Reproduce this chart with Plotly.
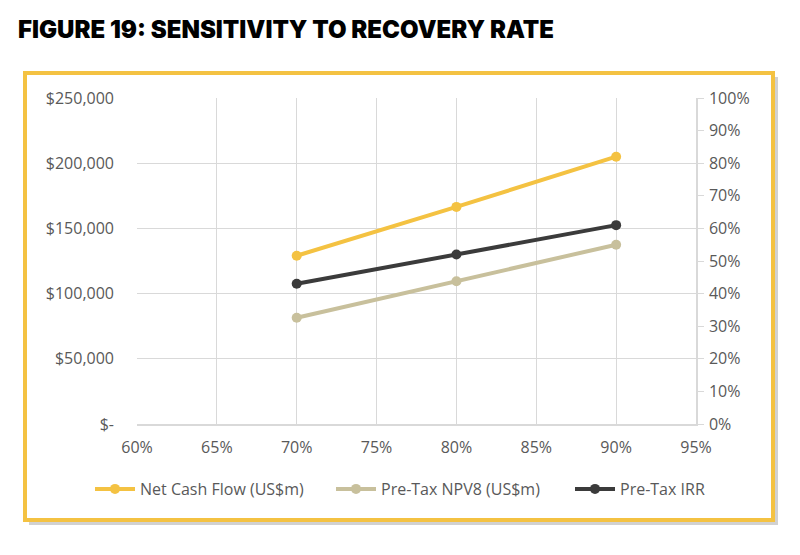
import plotly.graph_objects as go

recovery = [70, 80, 90]
net_cash_flow = [129000, 166500, 205000]
npv8 = [81500, 109500, 137500]
irr = [0.43, 0.52, 0.61]

x_ticks = [60, 65, 70, 75, 80, 85, 90, 95]
x_labels = ["60%", "65%", "70%", "75%", "80%", "85%", "90%", "95%"]
y_ticks = [0, 50000, 100000, 150000, 200000, 250000]
y_labels = ["$-", "$50,000", "$100,000", "$150,000", "$200,000", "$250,000"]
y2_ticks = [i / 10 for i in range(11)]
y2_labels = [f"{i*10}%" for i in range(11)]

GOLD = "#F4C242"
BEIGE = "#C8C09C"
DARK = "#3B3B3B"
GRID = "#D9D9D9"
TXT = "#595959"
FONT = "Open Sans"

fig = go.Figure()
fig.add_trace(go.Scatter(x=recovery, y=net_cash_flow, name="Net Cash Flow (US$m)",
                         mode="lines+markers", line=dict(color=GOLD, width=4),
                         marker=dict(size=10, color=GOLD), legend="legend"))
fig.add_trace(go.Scatter(x=recovery, y=npv8, name="Pre-Tax NPV8 (US$m)",
                         mode="lines+markers", line=dict(color=BEIGE, width=4),
                         marker=dict(size=10, color=BEIGE), legend="legend2"))
fig.add_trace(go.Scatter(x=recovery, y=irr, name="Pre-Tax IRR", yaxis="y2",
                         mode="lines+markers", line=dict(color=DARK, width=4),
                         marker=dict(size=10, color=DARK), legend="legend3"))

# page body adds an 8px offset; work in target-pixel coordinates and subtract it
OFF = 8
W, H = 800 - OFF, 555 - OFF
L, R, T, B = 137 - OFF, 800 - 696, 98 - OFF, 555 - 424
pw, ph = W - L - R, H - T - B
def px(x): return (x - OFF - L) / pw
def py(y): return (H - B - (y - OFF)) / ph

shapes = [
    dict(type="rect", xref="paper", yref="paper", x0=px(29), x1=px(778), y0=py(77), y1=py(525),
         fillcolor="rgba(0,0,0,0.18)", line=dict(width=0), layer="below"),
    dict(type="rect", xref="paper", yref="paper", x0=px(25), x1=px(773), y0=py(73), y1=py(520),
         fillcolor="white", line=dict(color=GOLD, width=4), layer="below"),
]

def leg(xpix):
    return dict(orientation="h", x=px(xpix), xanchor="left", y=py(489), yanchor="middle",
                font=dict(size=16, color=TXT), itemwidth=40, bgcolor="rgba(0,0,0,0)")

fig.update_layout(
    width=W, height=H,
    margin=dict(l=L, r=R, t=T, b=B, autoexpand=False),
    paper_bgcolor="white", plot_bgcolor="rgba(0,0,0,0)",
    font=dict(family=FONT, size=16, color=TXT),
    showlegend=True,
    legend=leg(90), legend2=leg(331), legend3=leg(570),
    title=dict(text="FIGURE 19: SENSITIVITY TO RECOVERY RATE", x=(18 - OFF) / W, xanchor="left",
               y=1 - (30 - OFF) / H, yanchor="middle", xref="container", yref="container",
               font=dict(family="Inter", size=24, color="black", weight=900)),
    xaxis=dict(range=[60, 95], tickvals=x_ticks, ticktext=x_labels, showgrid=True,
               gridcolor=GRID, gridwidth=1, showline=True, linecolor=GRID, linewidth=1.5,
               zeroline=False, ticks="", ticklabelstandoff=8, fixedrange=True),
    yaxis=dict(range=[0, 250000], tickvals=y_ticks, ticktext=y_labels, showgrid=True,
               gridcolor=GRID, gridwidth=1, showline=False, zeroline=False, ticks="",
               ticklabelstandoff=22),
    yaxis2=dict(range=[0, 1], tickvals=y2_ticks, ticktext=y2_labels, overlaying="y",
                side="right", showgrid=False, showline=True, linecolor=GRID, linewidth=1.5,
                ticks="outside", ticklen=6, tickcolor=GRID, zeroline=False,
                ticklabelstandoff=2),
    shapes=shapes,
)

fig.write_html("out.html")
